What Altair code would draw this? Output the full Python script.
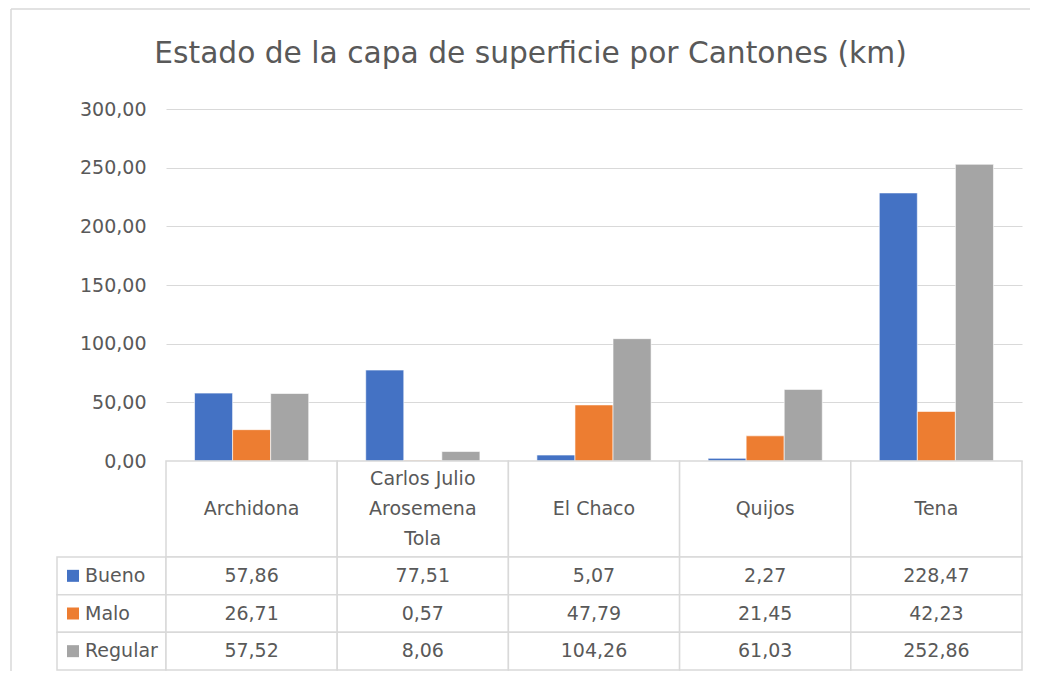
import altair as alt
import pandas as pd

cantones = ["Archidona", "Carlos Julio Arosemena Tola", "El Chaco", "Quijos", "Tena"]
cabeceras = ["Archidona", "Carlos Julio\nArosemena\nTola", "El Chaco", "Quijos", "Tena"]
series = ["Bueno", "Malo", "Regular"]
bueno = [57.86, 77.51, 5.07, 2.27, 228.47]
malo = [26.71, 0.57, 47.79, 21.45, 42.23]
regular = [57.52, 8.06, 104.26, 61.03, 252.86]
colores = ["#4472C4", "#ED7D31", "#A5A5A5"]
y_ticks = [0, 50, 100, 150, 200, 250, 300]
titulo = "Estado de la capa de superficie por Cantones (km)"

FONT = "DejaVu Sans"
TXT = "#595959"
GRID = "#D9D9D9"

rows = []
for s, vals in zip(series, [bueno, malo, regular]):
    for c, v in zip(cantones, vals):
        rows.append({"canton": c, "serie": s, "valor": v})
df = pd.DataFrame(rows)

head_rows = []
for c, cab in zip(cantones, cabeceras):
    lineas = cab.split("\n")
    n = len(lineas)
    for i, t in enumerate(lineas):
        head_rows.append({"canton": c, "linea": t, "pos": i - (n - 1) / 2})
df_head_txt = pd.DataFrame(head_rows)
df_head = pd.DataFrame({"canton": cantones})
df_rows = pd.DataFrame({"serie": series})
one = pd.DataFrame({"k": [0]})

color_scale = alt.Scale(domain=series, range=colores)
x_bars = alt.X("canton:N", sort=cantones, axis=None,
               scale=alt.Scale(domain=cantones, paddingInner=0.333, paddingOuter=0.1667))
x_cells = alt.X("canton:N", sort=cantones, axis=None,
                scale=alt.Scale(domain=cantones, paddingInner=0, paddingOuter=0))
y_cells = alt.Y("serie:N", axis=None, scale=alt.Scale(domain=series, paddingInner=0, paddingOuter=0))

bars = alt.Chart(df).mark_bar(stroke="white", strokeWidth=0.6).encode(
    x=x_bars,
    xOffset=alt.XOffset("serie:N", sort=series, scale=alt.Scale(domain=series, paddingInner=0, paddingOuter=0)),
    y=alt.Y("valor:Q", title=None,
            scale=alt.Scale(domain=[0, 300], nice=False, zero=True),
            axis=alt.Axis(values=y_ticks, grid=True, gridColor=GRID, gridWidth=1.2,
                          domain=False, ticks=False, labelPadding=20,
                          labelExpr="replace(format(datum.value, '.2f'), '.', ',')",
                          labelFont=FONT, labelFontSize=19, labelColor=TXT)),
    color=alt.Color("serie:N", scale=color_scale, legend=None),
)
# outer chart-area border (top and left edges)
frame_top = alt.Chart(one).mark_rule(color=GRID, strokeWidth=1.5).encode(
    x=alt.value(-155), x2=alt.value(864), y=alt.value(-100))
frame_left = alt.Chart(one).mark_rule(color=GRID, strokeWidth=1.5).encode(
    x=alt.value(-155), y=alt.value(-100), y2=alt.value(562))
bars_panel = alt.layer(bars, frame_top, frame_left).properties(width=856, height=352)

header_cells = alt.Chart(df_head).mark_rect(fill="white", stroke=GRID, strokeWidth=1.5).encode(
    x=x_cells
)
header_text = alt.Chart(df_head_txt).mark_text(
    font=FONT, fontSize=19, color=TXT, baseline="middle"
).encode(
    x=x_cells,
    y=alt.Y("pos:Q", axis=None, scale=alt.Scale(domain=[-1.6, 1.6], reverse=True)),
    text="linea:N",
)
header = alt.layer(header_cells, header_text).properties(width=856, height=96)

value_cells = alt.Chart(df).mark_rect(fill="white", stroke=GRID, strokeWidth=1.5).encode(
    x=x_cells, y=y_cells
)
value_text = alt.Chart(df).transform_calculate(
    etiqueta="replace(format(datum.valor, '.2f'), '.', ',')"
).mark_text(font=FONT, fontSize=19, color=TXT, baseline="middle").encode(
    x=x_cells, y=y_cells, text="etiqueta:N"
)
values = alt.layer(value_cells, value_text).properties(width=856, height=113)

label_cells = alt.Chart(df_rows).mark_rect(fill="white", stroke=GRID, strokeWidth=1.5).encode(
    y=y_cells
)
label_squares = alt.Chart(df_rows).mark_point(shape="square", filled=True, size=144, opacity=1).encode(
    x=alt.value(16), y=y_cells,
    color=alt.Color("serie:N", scale=color_scale, legend=None),
)
label_text = alt.Chart(df_rows).mark_text(
    font=FONT, fontSize=19, color=TXT, align="left", baseline="middle"
).encode(x=alt.value(28), y=y_cells, text="serie:N")
labels = alt.layer(label_cells, label_squares, label_text).properties(width=109, height=113)

empty = pd.DataFrame({"v": []})
ph1 = alt.Chart(empty).mark_point(opacity=0).encode(x=alt.value(0), y=alt.value(0)).properties(width=109, height=352)
ph2 = alt.Chart(empty).mark_point(opacity=0).encode(x=alt.value(0), y=alt.value(0)).properties(width=109, height=96)

chart = alt.concat(
    ph1, bars_panel, ph2, header, labels, values,
    columns=2, spacing=0, bounds="flush",
).properties(
    title=alt.TitleParams(titulo, font=FONT, fontSize=29.7, fontWeight="normal", color=TXT,
                          anchor="middle", offset=-61, dx=10),
    padding={"left": 2, "top": 0, "right": 0, "bottom": 0},
).configure_view(stroke=None).resolve_scale(color="shared")

chart.save("out.html", embed_options={"renderer": "svg", "actions": False})
